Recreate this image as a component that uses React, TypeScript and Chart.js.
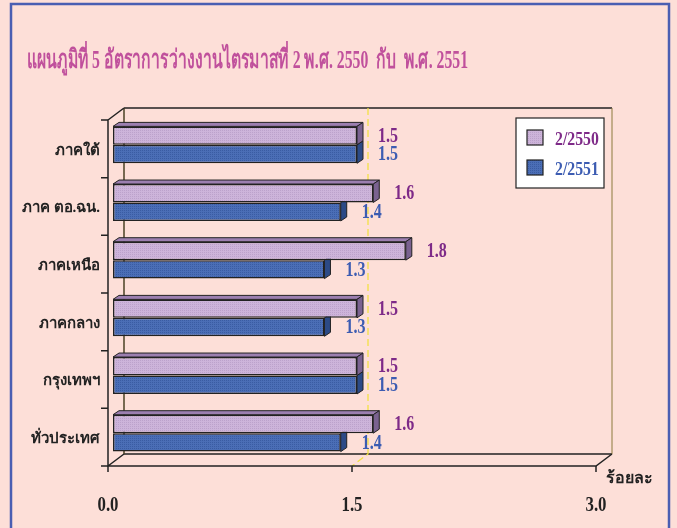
import React, { useEffect, useRef } from "react";
import { Chart, registerables } from "chart.js";

Chart.register(...registerables);

const categories = ["ภาคใต้", "ภาค ตอ.ฉน.", "ภาคเหนือ", "ภาคกลาง", "กรุงเทพฯ", "ทั่วประเทศ"];
const series2550 = [1.5, 1.6, 1.8, 1.5, 1.5, 1.6];
const series2551 = [1.5, 1.4, 1.3, 1.3, 1.5, 1.4];
const seriesNames = ["2/2550", "2/2551"];
const xTickValues = [0, 1.5, 3.0];
const gridValues = [1.5];
const titleText = "แผนภูมิที่ 5 อัตราการว่างงานไตรมาสที่ 2 พ.ศ. 2550  กับ  พ.ศ. 2551";
const unitText = "ร้อยละ";

const W = 677;
const H = 528;
const BG = "#FDDFD8";
const FRONT = ["#CDB4DA", "#4B6EB6"];
const FRONT_DOT = ["#BCA2CB", "#3A5CA3"];
const TOP = ["#9C7FB0", "#3B5A9C"];
const SIDE = ["#7A6290", "#2C4A86"];
const LABEL = ["#7E2A88", "#3C5CB2"];
const SERIF = "'Liberation Serif', 'Times New Roman', 'DejaVu Serif', serif";

// depth offsets (bar plane -> front plane / back plane)
const FX = -5, FY = 4;
const BX = 11, BY = -8;
const BDX = 6, BDY = 4;

function makePattern(base: string, dot: string) {
  const c = document.createElement("canvas");
  c.width = 2;
  c.height = 2;
  const g = c.getContext("2d")!;
  g.fillStyle = base;
  g.fillRect(0, 0, 2, 2);
  g.fillStyle = dot;
  g.fillRect(0, 0, 1, 1);
  const ctx = document.createElement("canvas").getContext("2d")!;
  return ctx.createPattern(c, "repeat") as CanvasPattern;
}

function narrowText(
  ctx: CanvasRenderingContext2D,
  text: string,
  x: number,
  y: number,
  align: CanvasTextAlign,
  sx: number
) {
  ctx.save();
  ctx.translate(x, y);
  ctx.scale(sx, 1);
  ctx.textAlign = align;
  ctx.textBaseline = "middle";
  ctx.fillText(text, 0, 0);
  ctx.restore();
}

export default function App() {
  const ref = useRef<HTMLCanvasElement | null>(null);

  useEffect(() => {
    if (!ref.current) return;
    const patterns = [makePattern(FRONT[0], FRONT_DOT[0]), makePattern(FRONT[1], FRONT_DOT[1])];

    const frame = {
      id: "frame3d",
      beforeDraw(chart: any) {
        const ctx = chart.ctx as CanvasRenderingContext2D;
        const xs = chart.scales.x;
        const ys = chart.scales.y;
        const area = chart.chartArea;
        ctx.save();
        ctx.fillStyle = BG;
        ctx.fillRect(0, 0, W, H);
        // outer border
        ctx.strokeStyle = "#4A5EB2";
        ctx.lineWidth = 2.5;
        ctx.strokeRect(11, 4, 658, 540);

        // title (condensed to the reference width)
        ctx.fillStyle = "#C0509C";
        ctx.font = `bold 26px ${SERIF}`;
        const tw = ctx.measureText(titleText).width;
        narrowText(ctx, titleText, 27, 61, "left", 441 / tw);

        const left = area.left, right = area.right, top = area.top, bottom = area.bottom;
        // back wall
        ctx.lineWidth = 1.5;
        ctx.strokeStyle = "#222";
        ctx.beginPath();
        ctx.moveTo(left + BX, top + BY);
        ctx.lineTo(right + BX, top + BY);
        ctx.moveTo(left + BX, bottom + BY);
        ctx.lineTo(right + BX, bottom + BY);
        ctx.stroke();
        ctx.strokeStyle = "#4A4224";
        ctx.beginPath();
        ctx.moveTo(left + BX, top + BY);
        ctx.lineTo(left + BX, bottom + BY);
        ctx.stroke();
        ctx.strokeStyle = "#8C7A3C";
        ctx.lineWidth = 1;
        ctx.beginPath();
        ctx.moveTo(right + BX, top + BY);
        ctx.lineTo(right + BX, bottom + BY);
        ctx.stroke();

        // dashed gridline
        ctx.strokeStyle = "#F2E23A";
        ctx.lineWidth = 1.2;
        ctx.setLineDash([7, 4]);
        for (const v of gridValues) {
          const px = xs.getPixelForValue(v);
          ctx.beginPath();
          ctx.moveTo(px + BX, top + BY);
          ctx.lineTo(px + BX, bottom + BY);
          ctx.lineTo(px + FX, bottom + FY);
          ctx.stroke();
        }
        ctx.setLineDash([]);

        // floor + front axes
        ctx.strokeStyle = "#222";
        ctx.lineWidth = 1.5;
        ctx.beginPath();
        ctx.moveTo(left + FX, top + FY);
        ctx.lineTo(left + BX, top + BY);
        ctx.moveTo(left + FX, top + FY);
        ctx.lineTo(left + FX, bottom + FY);
        ctx.lineTo(right + FX, bottom + FY);
        ctx.lineTo(right + BX, bottom + BY);
        ctx.moveTo(left + FX, bottom + FY);
        ctx.lineTo(left + BX, bottom + BY);
        ctx.stroke();

        // y ticks
        const band = (bottom - top) / categories.length;
        ctx.beginPath();
        for (let i = 0; i <= categories.length; i++) {
          const y = top + FY + i * band;
          ctx.moveTo(left + FX - 7, y);
          ctx.lineTo(left + FX, y);
        }
        // x ticks
        for (const v of xTickValues) {
          const px = xs.getPixelForValue(v) + FX;
          ctx.moveTo(px, bottom + FY);
          ctx.lineTo(px, bottom + FY + 6);
        }
        ctx.stroke();

        // category labels
        ctx.fillStyle = "#222";
        ctx.font = `bold 15px ${SERIF}`;
        ctx.textAlign = "right";
        ctx.textBaseline = "middle";
        categories.forEach((c, i) => {
          const y = ys.getPixelForValue(i) + FY + 2;
          ctx.fillText(c, left + FX - 8, y);
        });
        // x tick labels
        ctx.font = `bold 20px ${SERIF}`;
        xTickValues.forEach((v) => {
          narrowText(ctx, v.toFixed(1), xs.getPixelForValue(v) + FX, 506, "center", 0.84);
        });
        ctx.font = `bold 16px ${SERIF}`;
        narrowText(ctx, unitText, right + FX + 10, 479, "left", 1);
        ctx.restore();
      },
      beforeDatasetsDraw(chart: any) {
        const ctx = chart.ctx as CanvasRenderingContext2D;
        ctx.save();
        ctx.strokeStyle = "#222";
        ctx.lineWidth = 1;
        const m0 = chart.getDatasetMeta(0);
        const m1 = chart.getDatasetMeta(1);
        categories.forEach((_, i) => {
          [1, 0].forEach((d) => {
            const el = (d === 0 ? m0 : m1).data[i];
            const p = el.getProps(["x", "y", "base", "height"], true);
            const x0 = p.base, x1 = p.x, yt = p.y - p.height / 2, yb = p.y + p.height / 2;
            if (d === 0) {
              ctx.fillStyle = TOP[d];
              ctx.beginPath();
              ctx.moveTo(x0, yt);
              ctx.lineTo(x0 + BDX, yt - BDY);
              ctx.lineTo(x1 + BDX, yt - BDY);
              ctx.lineTo(x1, yt);
              ctx.closePath();
              ctx.fill();
              ctx.stroke();
            }
            ctx.fillStyle = SIDE[d];
            ctx.beginPath();
            ctx.moveTo(x1, yt);
            ctx.lineTo(x1 + BDX, yt - BDY);
            ctx.lineTo(x1 + BDX, yb - BDY);
            ctx.lineTo(x1, yb);
            ctx.closePath();
            ctx.fill();
            ctx.stroke();
          });
        });
        ctx.restore();
      },
      afterDatasetsDraw(chart: any) {
        const ctx = chart.ctx as CanvasRenderingContext2D;
        ctx.save();
        ctx.font = `bold 20px ${SERIF}`;
        [0, 1].forEach((d) => {
          const meta = chart.getDatasetMeta(d);
          const vals = d === 0 ? series2550 : series2551;
          meta.data.forEach((el: any, i: number) => {
            const p = el.getProps(["x", "y"], true);
            ctx.fillStyle = LABEL[d];
            narrowText(ctx, vals[i].toFixed(1), p.x + 21, p.y + 1, "left", 0.8);
          });
        });
        ctx.restore();
      },
      afterDraw(chart: any) {
        const ctx = chart.ctx as CanvasRenderingContext2D;
        ctx.save();
        // legend
        ctx.fillStyle = "#FFFFFF";
        ctx.fillRect(516, 118, 88, 70);
        ctx.strokeStyle = "#222";
        ctx.lineWidth = 1.2;
        ctx.strokeRect(516, 118, 88, 70);
        ctx.font = `bold 19px ${SERIF}`;
        seriesNames.forEach((n, k) => {
          const y = 130 + k * 30;
          ctx.fillStyle = patterns[k];
          ctx.fillRect(527, y, 16, 15);
          ctx.strokeStyle = "#222";
          ctx.lineWidth = 1.2;
          ctx.strokeRect(527, y, 16, 15);
          ctx.fillStyle = LABEL[k];
          narrowText(ctx, n, 555, y + 10, "left", 0.83);
        });
        ctx.restore();
      },
    };

    const chart = new Chart(ref.current, {
      type: "bar",
      data: {
        labels: categories,
        datasets: [
          {
            label: seriesNames[0],
            data: series2550,
            backgroundColor: patterns[0] as any,
            borderColor: "#222",
            borderWidth: 1.5,
            borderSkipped: false,
            categoryPercentage: 0.64,
            barPercentage: 1,
          },
          {
            label: seriesNames[1],
            data: series2551,
            backgroundColor: patterns[1] as any,
            borderColor: "#222",
            borderWidth: 1.5,
            borderSkipped: false,
            categoryPercentage: 0.64,
            barPercentage: 1,
          },
        ],
      },
      options: {
        indexAxis: "y",
        animation: false,
        responsive: false,
        maintainAspectRatio: false,
        layout: { padding: { left: 113, right: 76, top: 116, bottom: 66 } },
        scales: {
          x: { display: false, min: 0, max: 3 },
          y: { display: false },
        },
        plugins: { legend: { display: false }, tooltip: { enabled: false } },
      },
      plugins: [frame as any],
    });
    return () => chart.destroy();
  }, []);

  return (
    <div style={{ position: "fixed", left: 0, top: 0, width: W, height: H }}>
      <canvas ref={ref} width={W} height={H} style={{ width: W, height: H, display: "block" }} />
    </div>
  );
}
